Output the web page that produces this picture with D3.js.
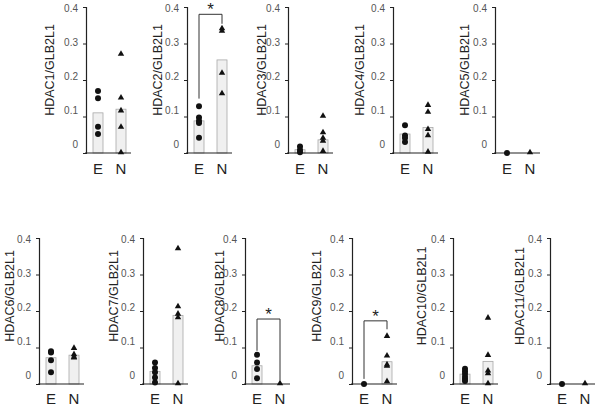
<!DOCTYPE html>
<html>
<meta charset="utf-8">
<style>
    body { margin: 0; background: #fff; }
    text { font-family: "Liberation Sans", Arial, sans-serif; }
    .bar { fill: #f0f0f0; stroke: #a8a8a8; stroke-width: 0.8px; }
    .bracket { fill: none; stroke: #333; stroke-width: 1px; }
</style>
<body>
<script src="https://d3js.org/d3.v7.min.js"></script>
<script>

    // genes (one panel each)
    var panels = ["HDAC1", "HDAC2", "HDAC3", "HDAC4", "HDAC5",
                  "HDAC6", "HDAC7", "HDAC8", "HDAC9", "HDAC10", "HDAC11"];
    var groups = ["E", "N"];
    var yTicks = [0, 0.1, 0.2, 0.3, 0.4];

    // bar heights (group means)
    var barE = [0.11, 0.088, 0.009, 0.052, 0, 0.072, 0.034, 0.05, 0, 0.027, 0];
    var barN = [0.12, 0.255, 0.036, 0.07, 0, 0.079, 0.188, 0, 0.061, 0.062, 0];

    // individual samples, E = circles, N = triangles
    var dotsE = [
        [0.17, 0.15, 0.072, 0.052],
        [0.128, 0.097, 0.088, 0.082, 0.042],
        [0.018, 0.008, 0.002],
        [0.076, 0.048, 0.041, 0.03],
        [0],
        [0.09, 0.086, 0.065, 0.032],
        [0.059, 0.044, 0.032, 0.018, 0.004],
        [0.08, 0.059, 0.041, 0.016],
        [0],
        [0.042, 0.035, 0.028, 0.02, 0.014, 0.008],
        [0]
    ];
    var dotsN = [
        [0.27, 0.15, 0.115, 0.07, 0],
        [0.34, 0.333, 0.218, 0.162],
        [0.1, 0.055, 0.04, 0.032, 0.004],
        [0.13, 0.111, 0.064, 0.047, 0.002],
        [0],
        [0.097, 0.08, 0.073, 0.071],
        [0.37, 0.211, 0.191, 0.181, 0],
        [0],
        [0.13, 0.076, 0.052, 0.048, 0.006],
        [0.18, 0.078, 0.035, 0.028, 0],
        [0]
    ];

    // significance brackets
    var sigPanels = ["HDAC2", "HDAC8", "HDAC9"];
    var sigTop = [0.38, 0.178, 0.173];
    var sigLeft = [0.149, 0.091, 0.014];
    var sigRight = [0.354, 0.01, 0.15];

    // layout of the panels
    var axisX = [86, 187, 288, 393, 495, 39, 143, 245, 352, 453, 550];
    var labelDx = [-36, -29, -26, -33, -30, -29, -29, -25, -35, -31, -30];
    var rowBase = [153, 384];
    var rowLabelY = [70, 296];
    var rowXLabel = [173.5, 404];
    var axisH = 146;

    var svg = d3.select("body").append("svg")
        .attr("width", 600)
        .attr("height", 408);

    svg.append("rect").attr("width", 600).attr("height", 408).attr("fill", "#fff");

    panels.forEach(function (name, i) {
        var row = i < 5 ? 0 : 1;
        var x0 = axisX[i];
        var base = rowBase[row];

        var y = d3.scaleLinear().domain([0, 0.4]).range([base, base - axisH]);
        var x = d3.scalePoint().domain(groups).range([x0 + 12, x0 + 35]);

        var g = svg.append("g");

        // bars
        g.selectAll(".bar")
            .data([barE[i], barN[i]])
            .enter().append("rect")
            .attr("class", "bar")
            .attr("x", function (d, j) { return x(groups[j]) - 5; })
            .attr("width", 10)
            .attr("y", function (d) { return y(d); })
            .attr("height", function (d) { return base - y(d); });

        // y axis
        var yAxis = g.append("g")
            .attr("transform", "translate(" + x0 + ",0)")
            .call(d3.axisLeft(y).tickValues(yTicks).tickSize(3).tickPadding(5)
                .tickFormat(function (d) { return d === 0 ? "0" : d3.format(".1f")(d); }));
        yAxis.select(".domain").attr("stroke", "#222").attr("stroke-width", 1.2);
        yAxis.selectAll(".tick line").attr("stroke", "#222");
        yAxis.selectAll(".tick text")
            .attr("fill", "#555")
            .style("font-size", "10px")
            .style("font-family", "'Liberation Sans', Arial, sans-serif")
            .attr("transform", function (d) { return "translate(0," + (1 - 10 * (1 - d / 0.4)) + ")"; });

        // x axis line
        g.append("line")
            .attr("x1", x0 - 1).attr("x2", x0 + 45)
            .attr("y1", base).attr("y2", base)
            .attr("stroke", "#222").attr("stroke-width", 1.2);

        g.selectAll(".xlab")
            .data(groups)
            .enter().append("text")
            .attr("x", function (d) { return x(d); })
            .attr("y", rowXLabel[row])
            .attr("text-anchor", "middle")
            .style("font-size", "15px")
            .attr("fill", "#222")
            .text(function (d) { return d; });

        // y label
        g.append("text")
            .attr("transform", "translate(" + (x0 + labelDx[i]) + "," + rowLabelY[row] + ") rotate(-90)")
            .attr("text-anchor", "middle")
            .attr("dominant-baseline", "central")
            .style("font-size", "12.5px")
            .attr("fill", "#222")
            .text(name + "/GLB2L1");

        // sample points
        g.selectAll(".dotE")
            .data(dotsE[i])
            .enter().append("circle")
            .attr("cx", x("E"))
            .attr("cy", function (d) { return y(d); })
            .attr("r", 3)
            .attr("fill", "#111");

        g.selectAll(".dotN")
            .data(dotsN[i])
            .enter().append("path")
            .attr("d", d3.symbol().type(d3.symbolTriangle).size(18))
            .attr("transform", function (d) { return "translate(" + x("N") + "," + (y(d) - 0.5) + ")"; })
            .attr("fill", "#111");

        // significance
        var s = sigPanels.indexOf(name);
        if (s >= 0) {
            var xl = x("E"), xr = x("N");
            g.append("path")
                .attr("class", "bracket")
                .attr("d", "M" + xl + "," + y(sigLeft[s]) + "V" + y(sigTop[s]) +
                    "H" + xr + "V" + y(sigRight[s]));
            g.append("text")
                .attr("x", (xl + xr) / 2)
                .attr("y", y(sigTop[s]) + 1)
                .attr("text-anchor", "middle")
                .style("font-size", "17px")
                .attr("fill", "#222")
                .text("*");
        }
    });

</script>
</body>
</html>
